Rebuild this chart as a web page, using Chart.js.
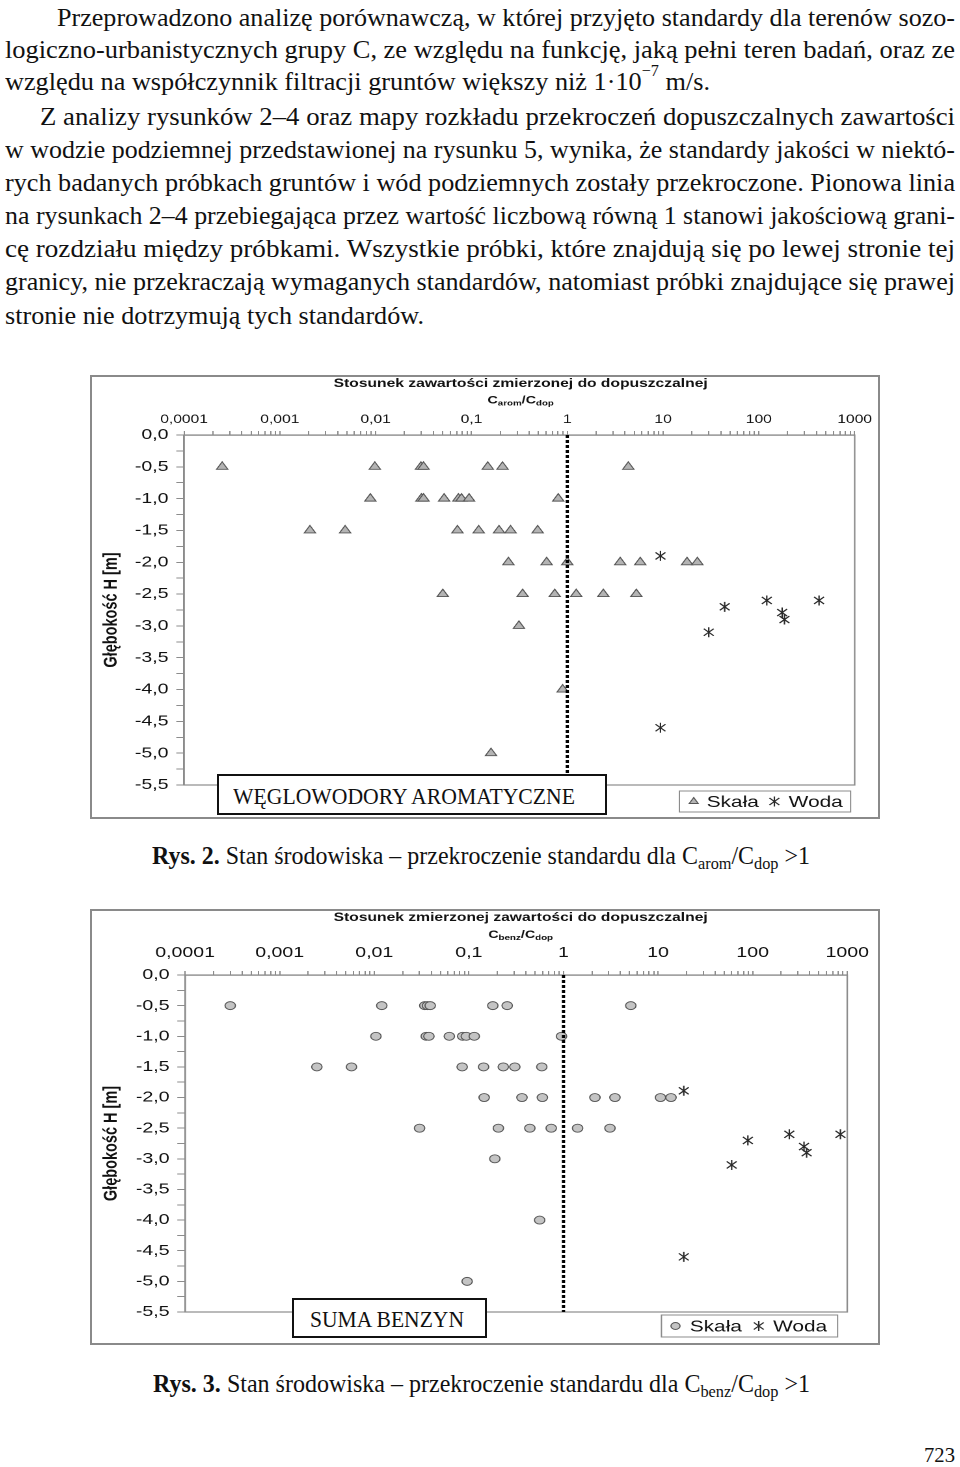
<!DOCTYPE html>
<html lang="pl">
<head>
<meta charset="utf-8">
<script src="https://cdn.jsdelivr.net/npm/chart.js@4.4.1/dist/chart.umd.min.js"></script>
<style>
  html, body { margin: 0; padding: 0; background: #fff; }
  body { width: 960px; height: 1467px; position: relative; overflow: hidden; color: #111;
         font-family: "Liberation Serif", "Times New Roman", serif; }
  .ln { position: absolute; white-space: nowrap; font-size: 26px; line-height: 32px; }
  .ln span { display: inline-block; transform-origin: 0 50%; }
  .ln sup { font-size: 16px; line-height: 0; position: relative; top: -4px; }
  .ln sub { font-size: 17px; line-height: 0; vertical-align: -5px; }
  .frame { position: absolute; border: 2px solid #8a8a8a; box-sizing: border-box; }
  .stretch { position: absolute; transform-origin: 0 0; transform: scaleX(1.3); }
  .tbox { position: absolute; border: 2px solid #111; background: #fff; box-sizing: border-box; }
</style>
</head>
<body>

<div class="ln" data-x="57" data-w="898" style="top:2px"><span>Przeprowadzono analizę porównawczą, w której przyjęto standardy dla terenów sozo-</span></div>
<div class="ln" data-x="5" data-w="950" style="top:34px"><span>logiczno-urbanistycznych grupy C, ze względu na funkcję, jaką pełni teren badań, oraz ze</span></div>
<div class="ln" data-x="5" data-w="705" style="top:66px"><span>względu na współczynnik filtracji gruntów większy niż 1·10<sup>−7</sup> m/s.</span></div>
<div class="ln" data-x="40" data-w="915" style="top:101px"><span>Z analizy rysunków 2–4 oraz mapy rozkładu przekroczeń dopuszczalnych zawartości</span></div>
<div class="ln" data-x="5" data-w="950" style="top:134px"><span>w wodzie podziemnej przedstawionej na rysunku 5, wynika, że standardy jakości w niektó-</span></div>
<div class="ln" data-x="5" data-w="950" style="top:167px"><span>rych badanych próbkach gruntów i wód podziemnych zostały przekroczone. Pionowa linia</span></div>
<div class="ln" data-x="5" data-w="950" style="top:200px"><span>na rysunkach 2–4 przebiegająca przez wartość liczbową równą 1 stanowi jakościową grani-</span></div>
<div class="ln" data-x="5" data-w="950" style="top:233px"><span>cę rozdziału między próbkami. Wszystkie próbki, które znajdują się po lewej stronie tej</span></div>
<div class="ln" data-x="5" data-w="950" style="top:266px"><span>granicy, nie przekraczają wymaganych standardów, natomiast próbki znajdujące się prawej</span></div>
<div class="ln" data-x="5" data-w="419" style="top:300px"><span>stronie nie dotrzymują tych standardów.</span></div>

<!-- Rys. 2 -->
<div class="frame" style="left:90px;top:375px;width:790px;height:444px"></div>
<div class="stretch" style="left:90px;top:375px;width:607.7px;height:443px"><canvas id="aromChart"></canvas></div>
<div class="tbox" style="left:217px;top:774px;width:390px;height:41px"></div>
<div class="ln" data-x="233" data-w="342" style="top:780px;font-size:24px"><span>WĘGLOWODORY AROMATYCZNE</span></div>
<div class="ln" data-x="152" data-w="658" style="top:840px;font-size:25px"><span><b>Rys. 2.</b> Stan środowiska – przekroczenie standardu dla C<sub>arom</sub>/C<sub>dop</sub> &gt;1</span></div>

<!-- Rys. 3 -->
<div class="frame" style="left:90px;top:909px;width:790px;height:436px"></div>
<div class="stretch" style="left:90px;top:909px;width:607.7px;height:435px"><canvas id="benzChart"></canvas></div>
<div class="tbox" style="left:292px;top:1298px;width:195px;height:40px"></div>
<div class="ln" data-x="310" data-w="154" style="top:1303px;font-size:24px"><span>SUMA BENZYN</span></div>
<div class="ln" data-x="153" data-w="657" style="top:1368px;font-size:25px"><span><b>Rys. 3.</b> Stan środowiska – przekroczenie standardu dla C<sub>benz</sub>/C<sub>dop</sub> &gt;1</span></div>

<div class="ln" data-x="924" data-w="31" style="top:1439px;font-size:22px"><span>723</span></div>

<script>
// ---- axis ticks ----
const X_DECADES = [0.0001, 0.001, 0.01, 0.1, 1, 10, 100, 1000];
const X_TICK_LABELS = ["0,0001", "0,001", "0,01", "0,1", "1", "10", "100", "1000"];
const X_MINOR_STEPS = [2, 3, 4, 5, 6, 7, 8, 9];
const DEPTH_LABELS = ["0,0", "-0,5", "-1,0", "-1,5", "-2,0", "-2,5", "-3,0", "-3,5", "-4,0", "-4,5", "-5,0", "-5,5"];
const LIMIT_RATIO = 1;

// ---- Rys. 2: weglowodory aromatyczne (C_arom/C_dop) ----
const AROM_SKALA_RATIO = [
  0.00025, 0.0098, 0.0297, 0.0316, 0.148, 0.211, 4.34,
  0.0088, 0.030, 0.0316, 0.0518, 0.073, 0.0787, 0.0944, 0.805,
  0.00206, 0.0048, 0.0714, 0.119, 0.194, 0.256, 0.491,
  0.243, 0.609, 1.0, 3.57, 5.78, 17.8, 22.8,
  0.0502, 0.342, 0.74, 1.24, 2.38, 5.26,
  0.313, 0.895, 0.16
];
const AROM_SKALA_DEPTH = [
  -0.5, -0.5, -0.5, -0.5, -0.5, -0.5, -0.5,
  -1.0, -1.0, -1.0, -1.0, -1.0, -1.0, -1.0, -1.0,
  -1.5, -1.5, -1.5, -1.5, -1.5, -1.5, -1.5,
  -2.0, -2.0, -2.0, -2.0, -2.0, -2.0, -2.0,
  -2.5, -2.5, -2.5, -2.5, -2.5, -2.5,
  -3.0, -4.0, -5.0
];
const AROM_WODA_RATIO = [9.4, 44, 121, 425, 175, 185, 30, 9.4];
const AROM_WODA_DEPTH = [-1.9, -2.7, -2.6, -2.6, -2.79, -2.9, -3.1, -4.6];

// ---- Rys. 3: suma benzyn (C_benz/C_dop) ----
const BENZ_SKALA_RATIO = [
  0.0003, 0.012, 0.0342, 0.0365, 0.039, 0.179, 0.254, 5.15,
  0.0104, 0.0354, 0.0378, 0.0621, 0.086, 0.0939, 0.114, 0.953,
  0.00247, 0.00574, 0.0849, 0.143, 0.231, 0.306, 0.59,
  0.145, 0.364, 0.598, 2.15, 3.5, 10.6, 13.7,
  0.0301, 0.205, 0.441, 0.742, 1.41, 3.1,
  0.188, 0.56, 0.0958
];
const BENZ_SKALA_DEPTH = [
  -0.5, -0.5, -0.5, -0.5, -0.5, -0.5, -0.5, -0.5,
  -1.0, -1.0, -1.0, -1.0, -1.0, -1.0, -1.0, -1.0,
  -1.5, -1.5, -1.5, -1.5, -1.5, -1.5, -1.5,
  -2.0, -2.0, -2.0, -2.0, -2.0, -2.0, -2.0,
  -2.5, -2.5, -2.5, -2.5, -2.5, -2.5,
  -3.0, -4.0, -5.0
];
const BENZ_WODA_RATIO = [18.7, 89, 244, 847, 349, 372, 60, 18.7];
const BENZ_WODA_DEPTH = [-1.89, -2.7, -2.6, -2.6, -2.8, -2.9, -3.1, -4.6];

const SANS = '"Liberation Sans", Arial, sans-serif';
const GREY = "#8c8c8c";

// fit each text line to its width in the scan (the print used a narrow Times)
document.querySelectorAll(".ln").forEach(el => {
  const sp = el.firstElementChild;
  el.style.left = el.dataset.x + "px";
  const s = +el.dataset.w / sp.getBoundingClientRect().width;
  sp.style.transform = `scaleX(${s})`;
});

const depthValues = DEPTH_LABELS.map(l => parseFloat(l.replace(",", ".")));
const yTicks = [];
depthValues.forEach((d, i) => {
  yTicks.push(d);
  if (i < depthValues.length - 1) yTicks.push((d + depthValues[i + 1]) / 2);
});
const xTicks = [];
X_DECADES.forEach((d, i) => {
  xTicks.push(d);
  if (i < X_DECADES.length - 1) X_MINOR_STEPS.forEach(k => xTicks.push(d * k));
});

function xLabel(v) {
  const e = Math.log10(v);
  if (Math.abs(e - Math.round(e)) > 1e-6) return "";
  return X_TICK_LABELS[X_DECADES.findIndex(d => Math.abs(Math.log10(d) - e) < 1e-6)];
}
function yLabel(v) {
  const i = depthValues.findIndex(d => Math.abs(d - v) < 1e-9);
  return i >= 0 ? DEPTH_LABELS[i] : "";
}

// title, C/C subtitle, plot border and legend box
function decor(o) {
  return {
    id: "decor",
    beforeDatasetsDraw(chart) {
      const { ctx, chartArea: a } = chart;
      ctx.save();
      ctx.strokeStyle = GREY;
      ctx.lineWidth = 1.2;
      ctx.strokeRect(a.left, a.top, a.right - a.left, a.bottom - a.top);
      ctx.restore();
    },
    afterDraw(chart) {
      const ctx = chart.ctx;
      ctx.save();
      ctx.fillStyle = "#111";
      ctx.textBaseline = "middle";
      ctx.textAlign = "center";
      ctx.font = `bold 12px ${SANS}`;
      ctx.fillText(o.title, o.cx, o.titleY);

      const parts = [["C", 11, 0], [o.sub, 7.5, 3], ["/C", 11, 0], ["dop", 7.5, 3]];
      let w = 0;
      parts.forEach(p => { ctx.font = `bold ${p[1]}px ${SANS}`; w += ctx.measureText(p[0]).width; });
      let x = o.cx - w / 2;
      ctx.textAlign = "left";
      parts.forEach(p => {
        ctx.font = `bold ${p[1]}px ${SANS}`;
        ctx.fillText(p[0], x, o.subY + p[2]);
        x += ctx.measureText(p[0]).width;
      });

      const L = o.legend;
      ctx.fillStyle = "#fff";
      ctx.fillRect(L.x1, L.y1, L.x2 - L.x1, L.y2 - L.y1);
      ctx.strokeStyle = GREY;
      ctx.lineWidth = 1;
      ctx.strokeRect(L.x1, L.y1, L.x2 - L.x1, L.y2 - L.y1);
      const cy = (L.y1 + L.y2) / 2;
      ctx.fillStyle = o.fill;
      ctx.strokeStyle = "#555";
      ctx.lineWidth = 0.9;
      Chart.helpers.drawPoint(ctx, { pointStyle: o.style, radius: o.legendRadius, rotation: 0, borderWidth: 0.9 }, L.m1, cy);
      Chart.helpers.drawPoint(ctx, { pointStyle: STAR, radius: 5, rotation: 0, borderWidth: 1 }, L.m2, cy);
      ctx.fillStyle = "#111";
      ctx.font = `16px ${SANS}`;
      ctx.fillText("Skała", L.t1, cy + 1);
      ctx.fillText("Woda", L.t2, cy + 1);
      ctx.restore();
    }
  };
}

function buildChart(id, o) {
  const skala = o.skalaRatio.map((r, i) => ({ x: r, y: o.skalaDepth[i] }));
  const woda = o.wodaRatio.map((r, i) => ({ x: r, y: o.wodaDepth[i] }));
  return new Chart(document.getElementById(id), {
    type: "scatter",
    data: {
      datasets: [
        {
          label: "granica", type: "line",
          data: [{ x: LIMIT_RATIO, y: depthValues[0] }, { x: LIMIT_RATIO, y: depthValues[depthValues.length - 1] }],
          borderColor: "#000", borderWidth: 2.5, borderDash: [3, 2], pointRadius: 0, fill: false
        },
        {
          label: "Skała", data: skala, pointStyle: o.style, pointRadius: o.radius,
          backgroundColor: o.fill, borderColor: "#555", borderWidth: 0.9
        },
        { label: "Woda", data: woda, pointStyle: STAR, pointRadius: 5 }
      ]
    },
    options: {
      responsive: true,
      maintainAspectRatio: false,
      animation: false,
      devicePixelRatio: 2,
      events: [],
      layout: { padding: { left: 0, right: o.padRight, top: 0, bottom: o.padBottom } },
      plugins: { legend: { display: false }, tooltip: { enabled: false } },
      scales: {
        x: {
          type: "logarithmic", position: "top",
          min: X_DECADES[0], max: X_DECADES[X_DECADES.length - 1],
          afterBuildTicks: s => { s.ticks = xTicks.map(v => ({ value: v })); },
          afterFit: s => { s.height = o.axisTop; },
          ticks: {
            autoSkip: false, maxRotation: 0, minRotation: 0, padding: o.xPad, color: "#111",
            font: { family: SANS, size: o.xFont }, callback: v => xLabel(v)
          },
          grid: { drawOnChartArea: false, drawTicks: true, tickLength: 4, color: GREY, lineWidth: 1 },
          border: { display: true, color: GREY, width: 1.2 }
        },
        y: {
          type: "linear", min: depthValues[depthValues.length - 1], max: depthValues[0],
          afterBuildTicks: s => { s.ticks = yTicks.map(v => ({ value: v })); },
          afterFit: s => { s.width = o.axisLeft; },
          ticks: {
            autoSkip: false, padding: 6, color: "#111",
            font: { family: SANS, size: 15 }, callback: v => yLabel(v)
          },
          title: {
            display: true, text: "Głębokość H [m]", color: "#111",
            font: { family: SANS, size: 14.5, weight: "bold" }, padding: { top: 8, bottom: 0 }
          },
          grid: { drawOnChartArea: false, drawTicks: true, tickLength: 6, color: GREY, lineWidth: 1 },
          border: { display: true, color: GREY, width: 1.2 }
        }
      }
    },
    plugins: [decor(o)]
  });
}

const STAR = new Image(9, 11);
STAR.onload = () => {
  buildChart("aromChart", {
    skalaRatio: AROM_SKALA_RATIO, skalaDepth: AROM_SKALA_DEPTH,
    wodaRatio: AROM_WODA_RATIO, wodaDepth: AROM_WODA_DEPTH,
    style: "triangle", radius: 5, legendRadius: 4, fill: "#b4b4b4",
    axisTop: 60, axisLeft: 72.3, padRight: 20, padBottom: 33, xPad: 4, xFont: 12,
    title: "Stosunek zawartości zmierzonej do dopuszczalnej", sub: "arom",
    cx: 331, titleY: 8.5, subY: 25.5,
    legend: { x1: 453, y1: 416, x2: 584.6, y2: 437, m1: 464, t1: 474, m2: 526, t2: 537 }
  });
  buildChart("benzChart", {
    skalaRatio: BENZ_SKALA_RATIO, skalaDepth: BENZ_SKALA_DEPTH,
    wodaRatio: BENZ_WODA_RATIO, wodaDepth: BENZ_WODA_DEPTH,
    style: "circle", radius: 4, legendRadius: 3.5, fill: "#c4c4c4",
    axisTop: 66, axisLeft: 73.1, padRight: 23.9, padBottom: 32, xPad: 9, xFont: 15,
    title: "Stosunek zmierzonej zawartości do dopuszczalnej", sub: "benz",
    cx: 331, titleY: 8.5, subY: 26,
    legend: { x1: 439.2, y1: 406, x2: 574.6, y2: 428, m1: 450, t1: 461, m2: 514, t2: 525 }
  });
};
STAR.src = "data:image/svg+xml," + encodeURIComponent(
  '<svg xmlns="http://www.w3.org/2000/svg" width="9" height="11" viewBox="0 0 9 11">' +
  '<path d="M4.5 0.5V10.5M0.7 2L8.3 9M8.3 2L0.7 9" stroke="#2a2a2a" stroke-width="1.1" fill="none"/></svg>'
);
</script>
</body>
</html>
